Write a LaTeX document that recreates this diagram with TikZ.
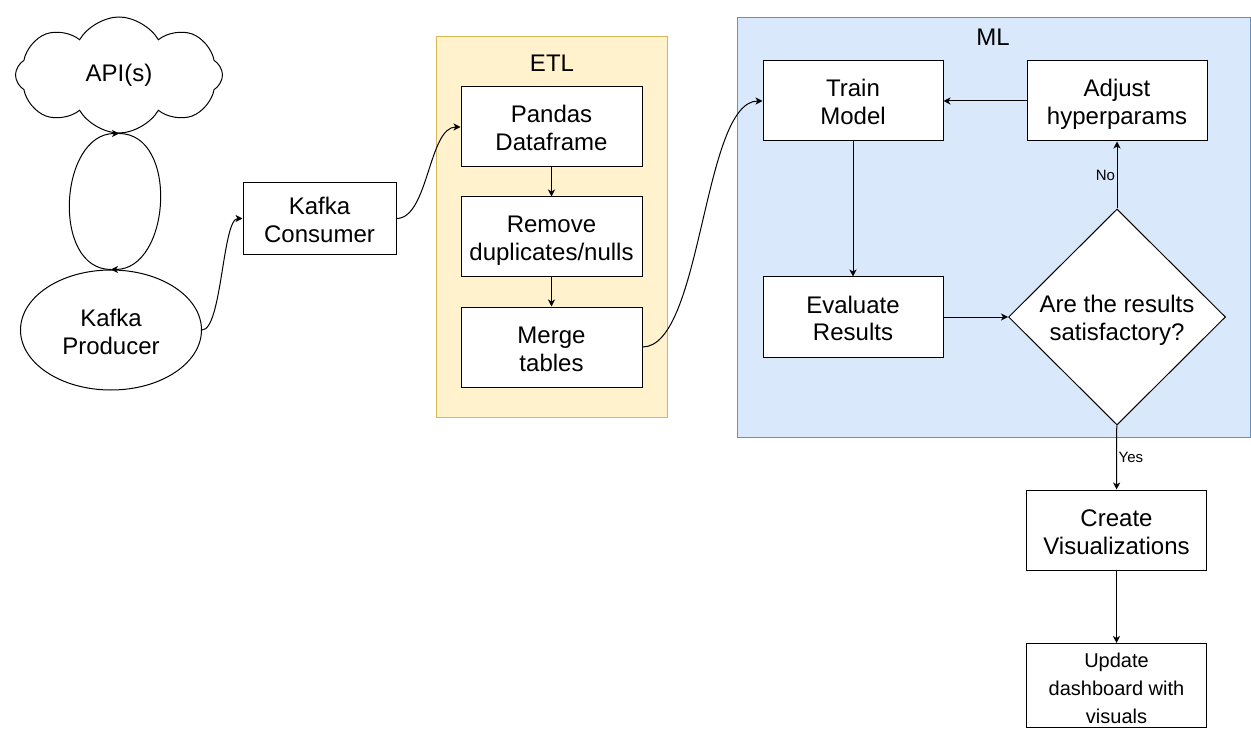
\documentclass[tikz,border=0pt]{standalone}
\usepackage{fontspec}
\setmainfont{Liberation Sans}
\usetikzlibrary{arrows.meta, shapes.geometric, shapes.symbols}
\definecolor{etlfill}{HTML}{FFF2CC}
\definecolor{etlline}{HTML}{D6B656}
\definecolor{mlfill}{HTML}{DAE8FC}
\definecolor{mlline}{HTML}{6C8EBF}
\newcommand{\LineStrut}{\rule[-4pt]{0pt}{28pt}}

\begin{document}
\begin{tikzpicture}[
      x = 1pt, y = -1pt, line width = 1pt,
      Line/.style = {draw, -{Stealth[length = 7pt, width = 7pt, inset = 2pt]}},
      Box/.style = {draw, rectangle, fill = white, align = center, minimum width = 180pt, minimum height = 80pt, font = \fontsize{24}{28}\selectfont,
        execute at end node = \LineStrut},
      Group/.style = {rectangle, minimum width = 231pt, minimum height = 380pt},
      Title/.style = {font = \fontsize{24}{28}\selectfont},
      EdgeLabel/.style = {font = \fontsize{15}{18}\selectfont, inner sep = 1.5pt}
    ]
    \useasboundingbox (0,0) rectangle (1251,730);

    \node at (551.5,227) [Group, fill = etlfill, draw = etlline](E){};
    \node at (993.5,227.5) [Group, fill = mlfill, draw = mlline, minimum width = 513pt, minimum height = 419pt](M){};
    \node at (552,63) [Title](EL){ETL};
    \node at (993,37) [Title](ML){ML};

    \node at (119,75) [Title, draw, cloud, cloud puffs = 8, cloud puff arc = 120, aspect = 1.8, minimum width = 207pt, minimum height = 116pt, inner sep = 0pt](A){API(s)};
    \node at (111,330) [Box, ellipse, minimum width = 181pt, minimum height = 120pt](P){\LineStrut Kafka\\Producer};
    \node at (319.5,218.5) [Box, minimum width = 153pt, minimum height = 72pt](C){\LineStrut Kafka\\Consumer};

    \node at (551.5,127) [Box, minimum width = 181pt](D1){\LineStrut Pandas\\Dataframe};
    \node at (551.5,237) [Box, minimum width = 181pt](D2){\LineStrut Remove\\duplicates/nulls};
    \node at (551.5,347) [Box, minimum width = 181pt](D3){\LineStrut Merge\\tables};

    \node at (853,101) [Box](T){\LineStrut Train\\Model};
    \node at (1117,101) [Box](H){\LineStrut Adjust\\hyperparams};
    \node at (853,317) [Box](V){\LineStrut Evaluate\\Results};
    \node at (1117,317) [Box, diamond, aspect = 1, inner sep = 0pt, minimum width = 217pt, minimum height = 216pt](Q){\LineStrut Are the results\\satisfactory?};
    \node at (1116.5,530) [Box](R){\LineStrut Create\\Visualizations};
    \node at (1116.5,685.5) [Box, inner ysep = 0pt, minimum height = 83pt, font = \fontsize{20}{28}\selectfont](U){\LineStrut Update\\dashboard with\\visuals};

    \path [Line] (P.north) .. controls +(-60,0) and +(-60,0) .. (A.south);
    \path [Line] (A.south) .. controls +(60,0) and +(60,0) .. (P.north);
    \path [Line] (P.east) .. controls +(20,0) and +(-20,0) .. (C.west);
    \path [Line] (C.east) .. controls +(32,0) and +(-32,0) .. (D1.west);
    \path [Line] (D1) -- (D2);
    \path [Line] (D2) -- (D3);
    \path [Line] (D3.east) .. controls +(60,0) and +(-60,0) .. (T.west);
    \path [Line] (T) -- (V);
    \path [Line] (H) -- (T);
    \path [Line] (V) -- (Q);
    \path [Line] (Q) -- node[EdgeLabel, left]{No} (H);
    \path [Line] (Q) -- node[EdgeLabel, right]{Yes} (R);
    \path [Line] (R) -- (U);
  \end{tikzpicture}
\end{document}
